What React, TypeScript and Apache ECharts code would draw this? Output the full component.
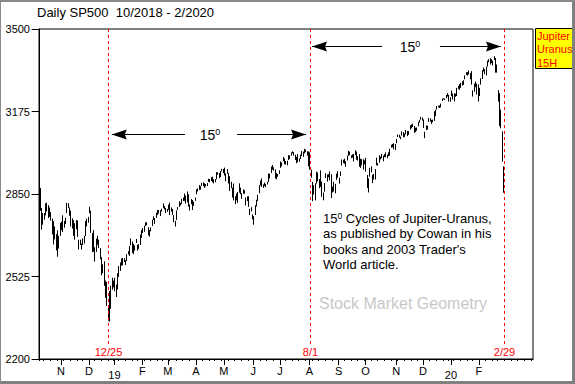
import { useEffect, useRef } from "react";
import * as echarts from "echarts";

type Bar = [number, number, number]; // [day of month, low, high]

const oct2018: Bar[] = [[10,2784,2874],[11,2710,2795],[12,2729,2775],[15,2749,2775],[16,2766,2813],[17,2781,2816],[18,2755,2806],[19,2760,2797],[22,2745,2779],[23,2691,2753],[24,2651,2743],[25,2671,2722],[26,2628,2692],[29,2603,2707],[30,2635,2685],[31,2685,2736]];
const nov2018: Bar[] = [[1,2708,2741],[2,2700,2766],[5,2717,2744],[6,2732,2756],[7,2775,2815],[8,2795,2814],[9,2764,2797],[12,2722,2785],[13,2714,2754],[14,2685,2747],[15,2670,2735],[16,2711,2747],[19,2681,2746],[20,2631,2670],[21,2649,2670],[23,2631,2655],[26,2649,2675],[27,2655,2685],[28,2684,2744],[29,2722,2753],[30,2737,2760]];
const dec2018: Bar[] = [[3,2774,2800],[4,2697,2785],[6,2621,2696],[7,2623,2708],[10,2584,2640],[11,2622,2674],[12,2650,2685],[13,2637,2670],[14,2593,2637],[17,2530,2601],[18,2538,2573],[19,2488,2585],[20,2441,2509],[21,2409,2504],[24,2351,2410],[26,2347,2468],[27,2398,2489],[28,2473,2520],[31,2482,2509]];
const jan2019: Bar[] = [[2,2467,2520],[3,2444,2493],[4,2474,2538],[7,2524,2566],[8,2547,2580],[9,2568,2596],[10,2569,2598],[11,2582,2597],[14,2570,2589],[15,2586,2613],[16,2612,2625],[17,2606,2645],[18,2648,2675],[22,2617,2663],[23,2613,2653],[24,2627,2647],[25,2657,2673],[28,2627,2650],[29,2634,2652],[30,2649,2690],[31,2677,2708]];
const feb2019: Bar[] = [[1,2696,2716],[4,2701,2725],[5,2724,2738],[6,2727,2739],[7,2687,2719],[8,2682,2708],[11,2703,2718],[12,2724,2749],[13,2748,2762],[14,2732,2755],[15,2756,2776],[19,2767,2787],[20,2773,2787],[21,2763,2786],[22,2781,2792],[25,2794,2813],[26,2789,2803],[27,2775,2795],[28,2780,2791]];
const mar2019: Bar[] = [[1,2788,2808],[4,2767,2816],[5,2781,2797],[6,2768,2791],[7,2739,2767],[8,2722,2744],[11,2748,2785],[12,2787,2798],[13,2799,2821],[14,2805,2815],[15,2811,2831],[18,2822,2836],[19,2823,2852],[20,2812,2844],[21,2817,2860],[22,2800,2849],[25,2785,2809],[26,2810,2830],[27,2787,2826],[28,2803,2820],[29,2823,2836]];
const apr2019: Bar[] = [[1,2849,2869],[2,2860,2872],[3,2866,2885],[4,2867,2881],[5,2882,2894],[8,2881,2896],[9,2874,2892],[10,2879,2889],[11,2881,2893],[12,2898,2910],[15,2896,2909],[16,2901,2916],[17,2896,2918],[18,2892,2908],[22,2896,2909],[23,2908,2936],[24,2926,2936],[25,2912,2933],[26,2917,2940],[29,2939,2949],[30,2932,2949]];
const may2019: Bar[] = [[1,2923,2954],[2,2900,2931],[3,2930,2948],[6,2891,2933],[7,2862,2920],[8,2873,2898],[9,2836,2875],[10,2825,2891],[13,2810,2841],[14,2825,2852],[15,2815,2858],[16,2855,2892],[17,2849,2875],[20,2831,2853],[21,2851,2868],[22,2851,2865],[23,2805,2836],[24,2822,2841],[28,2799,2841],[29,2767,2792],[30,2781,2798],[31,2750,2769]];
const jun2019: Bar[] = [[3,2729,2763],[4,2767,2806],[5,2801,2827],[6,2822,2847],[7,2853,2885],[10,2884,2903],[11,2878,2911],[12,2874,2888],[13,2881,2895],[14,2877,2890],[17,2887,2898],[18,2897,2931],[19,2911,2930],[20,2933,2958],[21,2946,2964],[24,2942,2955],[25,2911,2947],[26,2908,2933],[27,2918,2929],[28,2929,2943]];
const jul2019: Bar[] = [[1,2953,2978],[2,2959,2974],[3,2979,2996],[5,2967,2990],[8,2966,2980],[9,2963,2981],[10,2984,3003],[11,2988,3002],[12,3001,3014],[15,3010,3018],[16,3001,3015],[17,2984,3005],[18,2971,2996],[19,2975,3007],[22,2977,2990],[23,2988,3005],[24,3000,3019],[25,2996,3017],[26,3010,3028],[29,3015,3025],[30,3001,3018],[31,2959,3018]];
const aug2019: Bar[] = [[1,2946,3014],[2,2914,2945],[5,2822,2898],[6,2848,2885],[7,2825,2892],[8,2891,2938],[9,2900,2935],[12,2873,2909],[13,2878,2943],[14,2839,2899],[15,2825,2856],[16,2859,2893],[19,2913,2932],[20,2899,2927],[21,2916,2928],[22,2904,2939],[23,2834,2928],[26,2856,2879],[27,2860,2898],[28,2853,2890],[29,2905,2930],[30,2914,2940]];
const sep2019: Bar[] = [[3,2891,2915],[4,2921,2939],[5,2962,2986],[6,2972,2985],[9,2969,2989],[10,2957,2980],[11,2982,3001],[12,3000,3020],[13,3003,3017],[16,2991,3003],[17,2993,3006],[18,2978,3008],[19,3003,3022],[20,2985,3017],[23,2982,2999],[24,2957,3007],[25,2953,2989],[26,2963,2987],[27,2946,2987],[30,2967,2983]];
const oct2019: Bar[] = [[1,2938,2993],[2,2874,2925],[3,2856,2911],[4,2918,2953],[7,2935,2959],[8,2893,2926],[9,2907,2929],[10,2907,2948],[11,2963,2993],[14,2962,2972],[15,2973,3003],[16,2986,2997],[17,2991,3008],[18,2979,3001],[21,2995,3007],[22,2995,3014],[23,2991,3005],[24,2999,3014],[25,3001,3028],[28,3032,3044],[29,3034,3047],[30,3026,3050],[31,3023,3047]];
const nov2019: Bar[] = [[1,3050,3067],[4,3074,3084],[5,3072,3083],[6,3066,3076],[7,3080,3097],[8,3073,3094],[11,3075,3088],[12,3085,3102],[13,3078,3098],[14,3083,3098],[15,3104,3121],[18,3109,3124],[19,3114,3127],[20,3091,3118],[21,3094,3111],[22,3099,3112],[25,3117,3134],[26,3131,3142],[27,3143,3154],[29,3139,3151]];
const dec2019: Bar[] = [[2,3110,3144],[3,3070,3095],[4,3102,3120],[5,3104,3119],[6,3134,3150],[9,3135,3148],[10,3126,3142],[11,3133,3143],[12,3138,3176],[13,3157,3182],[16,3183,3197],[17,3191,3198],[18,3189,3199],[19,3191,3206],[20,3216,3226],[23,3222,3227],[24,3220,3226],[26,3227,3240],[27,3234,3247],[30,3214,3241],[31,3213,3231]];
const jan2020: Bar[] = [[2,3235,3258],[3,3222,3246],[6,3215,3247],[7,3233,3245],[8,3236,3268],[9,3263,3276],[10,3260,3283],[13,3268,3288],[14,3277,3294],[15,3280,3298],[16,3302,3317],[17,3319,3330],[21,3316,3330],[22,3321,3337],[23,3302,3326],[24,3281,3334],[27,3234,3258],[28,3253,3285],[29,3271,3293],[30,3242,3285],[31,3214,3282]];
const feb2020: Bar[] = [[3,3236,3268],[4,3281,3306],[5,3303,3338],[6,3333,3348],[7,3322,3342],[10,3317,3352],[11,3352,3375],[12,3369,3381],[13,3360,3385],[14,3366,3381],[18,3356,3375],[19,3378,3393],[20,3328,3386],[21,3328,3360],[24,3214,3259],[25,3118,3247],[26,3109,3182],[27,2977,3097],[28,2855,2959]];
// trading days shown on the axis after the data ends (no bars)
const mar2020Days: number[] = [2,3,4,5,6,9,10,11,12,13,16,17,18,19,20,23,24,25,26,27,30,31];

const monthBlocks = [
  { year: 2018, month: 10, bars: oct2018 }, { year: 2018, month: 11, bars: nov2018 }, { year: 2018, month: 12, bars: dec2018 },
  { year: 2019, month: 1, bars: jan2019 }, { year: 2019, month: 2, bars: feb2019 }, { year: 2019, month: 3, bars: mar2019 },
  { year: 2019, month: 4, bars: apr2019 }, { year: 2019, month: 5, bars: may2019 }, { year: 2019, month: 6, bars: jun2019 },
  { year: 2019, month: 7, bars: jul2019 }, { year: 2019, month: 8, bars: aug2019 }, { year: 2019, month: 9, bars: sep2019 },
  { year: 2019, month: 10, bars: oct2019 }, { year: 2019, month: 11, bars: nov2019 }, { year: 2019, month: 12, bars: dec2019 },
  { year: 2020, month: 1, bars: jan2020 }, { year: 2020, month: 2, bars: feb2020 },
];

const monthLetters = ["J", "F", "M", "A", "M", "J", "J", "A", "S", "O", "N", "D"];
const yTicks = [2200, 2525, 2850, 3175, 3500];

// cycle lines are drawn right after these trading days
const cycleAfterDates = ["2018-12-24", "2019-08-01", "2020-02-28"];
const cycleLabels = ["12/25", "8/1", "2/29"];

// double arrows: [left tip, left tail, right tail, right tip, price level, label position] (x in trading-day index)
const arrowSpans: number[][] = [
  [54.0, 108.8, 147.8, 199.5, 3086, 127.6],
  [204.0, 256.4, 299.8, 345.5, 3433, 277.4],
];

const FONT = "'Liberation Sans', Arial, sans-serif";

function pad(n: number) { return n < 10 ? "0" + n : "" + n; }

export default function App() {
  const ref = useRef<HTMLDivElement>(null);

  useEffect(() => {
    if (!ref.current) return;
    const chart = echarts.init(ref.current, undefined, { renderer: "svg" });

    const categories: string[] = [];
    const barData: number[][] = [];
    const weekStart: boolean[] = [];
    const monthStart: boolean[] = [];
    const monthLabel: string[] = [];
    let prev: Date | null = null;
    const pushDay = (y: number, m: number, d: number, first: boolean, labelled: boolean) => {
      const dt = new Date(Date.UTC(y, m - 1, d));
      const isWeek = !prev || dt.getUTCDay() <= prev.getUTCDay() || (dt.getTime() - prev.getTime()) / 86400000 >= 7;
      const isMonth = labelled && first && d <= 5;
      categories.push(`${y}-${pad(m)}-${pad(d)}`);
      weekStart.push(isWeek);
      monthStart.push(isMonth);
      monthLabel.push(isMonth ? (m === 1 ? `{yr|${String(y).slice(2)}}` : monthLetters[m - 1]) : "");
      prev = dt;
    };
    monthBlocks.forEach((b) => {
      b.bars.forEach((bar, k) => {
        pushDay(b.year, b.month, bar[0], k === 0, true);
        barData.push([categories.length - 1, bar[1], bar[2]]);
      });
    });
    mar2020Days.forEach((d, k) => pushDay(2020, 3, d, k === 0, false));

    const cycleData = cycleAfterDates.map((d) => [categories.indexOf(d) + 0.5]);

    chart.setOption({
      animation: false,
      backgroundColor: "#ffffff",
      grid: { left: 39, top: 29, right: 42, bottom: 25, show: true, borderColor: "#000", borderWidth: 1, backgroundColor: "transparent" },
      xAxis: [
        {
          type: "category", data: categories, boundaryGap: true,
          axisLine: { show: true, lineStyle: { color: "#000", width: 1 } },
          axisTick: { show: true, alignWithLabel: true, interval: (i: number) => weekStart[i], length: 2, lineStyle: { color: "#000" } },
          axisLabel: { show: false }, splitLine: { show: false },
        },
        {
          type: "category", data: categories, boundaryGap: true, position: "bottom",
          axisLine: { show: false },
          axisTick: { show: true, alignWithLabel: true, interval: (i: number) => monthStart[i], length: 6, lineStyle: { color: "#000" } },
          axisLabel: {
            show: true, interval: (i: number) => monthStart[i], formatter: (_v: string, i: number) => monthLabel[i],
            color: "#000", fontSize: 11, fontFamily: FONT, margin: 6,
            rich: { yr: { color: "#000", fontSize: 11, fontFamily: FONT, padding: [4, 0, 0, 0] } },
          },
          splitLine: { show: false },
        },
        { type: "value", min: -0.5, max: categories.length - 0.5, show: false },
      ],
      yAxis: {
        type: "value", min: 2200, max: 3500,
        axisLine: { show: true, lineStyle: { color: "#000", width: 1 } },
        axisTick: { show: true, length: 8, customValues: yTicks, lineStyle: { color: "#000" } },
        axisLabel: { customValues: yTicks, formatter: (v: number) => String(v), color: "#000", fontSize: 11, fontFamily: FONT, margin: 9 },
        splitLine: { show: false },
      },
      series: [
        {
          type: "custom", name: "SP500", xAxisIndex: 0, yAxisIndex: 0, data: barData,
          encode: { x: 0, y: [1, 2] },
          renderItem: (_p: any, api: any) => {
            const xi = api.value(0);
            const lo = api.coord([xi, api.value(1)]);
            const hi = api.coord([xi, api.value(2)]);
            const x = Math.round(lo[0]) + 0.5;
            let y2 = lo[1];
            if (y2 - hi[1] < 1) y2 = hi[1] + 1;
            return { type: "line", shape: { x1: x, y1: hi[1], x2: x, y2 }, style: { stroke: "#000", lineWidth: 1 } };
          },
        },
        {
          type: "custom", name: "cycles", xAxisIndex: 2, yAxisIndex: 0, data: cycleData, clip: false,
          encode: { x: 0 },
          renderItem: (p: any, api: any) => {
            const cs = p.coordSys;
            const pt = api.coord([api.value(0), 3500]);
            const x = Math.round(pt[0]) + 0.5;
            const bottom = cs.y + cs.height;
            return {
              type: "group",
              children: [
                { type: "line", shape: { x1: x, y1: cs.y, x2: x, y2: bottom - 14 }, style: { stroke: "#ff0000", lineWidth: 1, lineDash: [3, 3] } },
                { type: "text", x: x, y: bottom - 7, style: { text: cycleLabels[p.dataIndex], fill: "#ff0000", fontSize: 11, fontFamily: FONT, align: "center", verticalAlign: "middle" } },
              ],
            };
          },
        },
        {
          type: "custom", name: "arrows", xAxisIndex: 2, yAxisIndex: 0, data: arrowSpans, clip: false,
          encode: { x: [0, 1, 2, 3], y: 4 },
          renderItem: (_p: any, api: any) => {
            const yv = api.value(4);
            const pL = api.coord([api.value(0), yv]);
            const tL = api.coord([api.value(1), yv]);
            const tR = api.coord([api.value(2), yv]);
            const pR = api.coord([api.value(3), yv]);
            const lab = api.coord([api.value(5), yv]);
            const y = Math.round(pL[1]) + 0.5;
            const L = 15, H = 5, N = 2;
            const head = (tip: number, dir: number) => ({
              type: "polygon",
              shape: { points: [[tip, y], [tip + dir * L, y - H], [tip + dir * (L - N), y], [tip + dir * L, y + H]] },
              style: { fill: "#000" },
            });
            return {
              type: "group",
              children: [
                { type: "line", shape: { x1: pL[0], y1: y, x2: tL[0], y2: y }, style: { stroke: "#000", lineWidth: 1 } },
                { type: "line", shape: { x1: tR[0], y1: y, x2: pR[0], y2: y }, style: { stroke: "#000", lineWidth: 1 } },
                head(pL[0], 1),
                head(pR[0], -1),
                {
                  type: "text", x: lab[0], y: y,
                  style: {
                    text: "{n|15}{s|0}", align: "center", verticalAlign: "middle",
                    rich: {
                      n: { fontSize: 14, fontFamily: FONT, fill: "#000" },
                      s: { fontSize: 9, fontFamily: FONT, fill: "#000", verticalAlign: "top" },
                    },
                  },
                },
              ],
            };
          },
        },
      ],
      graphic: [
        { type: "text", x: 37, y: 12, style: { text: "Daily SP500  10/2018 - 2/2020", fill: "#000", fontSize: 13, fontFamily: FONT, verticalAlign: "middle" } },
        { type: "rect", shape: { x: 535.5, y: 28.5, width: 38, height: 40 }, style: { fill: "#ffff00", stroke: "#000", lineWidth: 1 } },
        { type: "text", x: 537, y: 29, style: { text: "Jupiter\nUranus\n15H", fill: "#ff0000", fontSize: 11, fontFamily: FONT, lineHeight: 13.5, verticalAlign: "top" } },
        {
          type: "text", x: 323, y: 211,
          style: {
            text: "{n|15}{s|0}{n| Cycles of Jupiter-Uranus,}\n{n|as published by Cowan in his}\n{n|books and 2003 Trader's}\n{n|World article.}",
            verticalAlign: "top", lineHeight: 15.3,
            rich: {
              n: { fontSize: 13, fontFamily: FONT, fill: "#000", lineHeight: 15.3 },
              s: { fontSize: 8.5, fontFamily: FONT, fill: "#000", verticalAlign: "top", lineHeight: 15.3 },
            },
          },
        },
        { type: "text", x: 319, y: 303, style: { text: "Stock Market Geometry", fill: "#c8c8c8", fontSize: 16, fontFamily: FONT, verticalAlign: "middle" } },
      ],
    });

    return () => chart.dispose();
  }, []);

  return (
    <div style={{ position: "fixed", left: 0, top: 0, width: 575, height: 384, background: "#fff" }}>
      <div ref={ref} style={{ position: "absolute", left: 0, top: 0, width: 575, height: 384 }} />
      <div
        style={{
          position: "absolute", left: 0, top: 0, width: 575, height: 384, boxSizing: "border-box", pointerEvents: "none",
          borderTop: "2px solid #8a8a8a", borderLeft: "1px solid #8a8a8a", borderRight: "3px solid #808080", borderBottom: "3px solid #808080",
        }}
      />
    </div>
  );
}
